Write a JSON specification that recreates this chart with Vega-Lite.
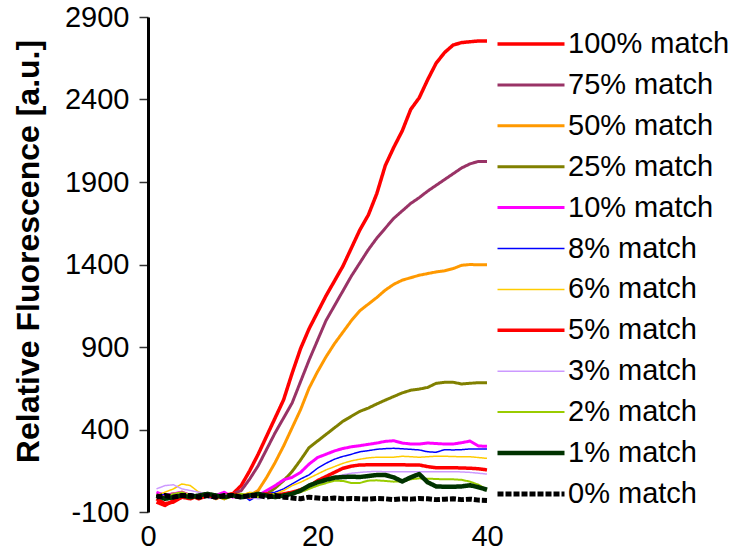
{
  "$schema": "https://vega.github.io/schema/vega-lite/v6.json",
  "width": 339,
  "height": 495,
  "autosize": {"type": "none"},
  "padding": {"left": 148, "top": 17, "right": 246, "bottom": 41},
  "background": "white",
  "config": {
    "font": "Liberation Sans",
    "view": {"stroke": null},
    "axis": {"grid": false}
  },
  "datasets": {
    "series": [
      {"s":"100% match","c":1,"v":-20},{"s":"100% match","c":2,"v":-50},{"s":"100% match","c":3,"v":-40},{"s":"100% match","c":4,"v":-10},{"s":"100% match","c":5,"v":-20},{"s":"100% match","c":6,"v":0},{"s":"100% match","c":7,"v":10},{"s":"100% match","c":8,"v":-10},{"s":"100% match","c":9,"v":0},{"s":"100% match","c":10,"v":10},
      {"s":"100% match","c":11,"v":60},{"s":"100% match","c":12,"v":150},{"s":"100% match","c":13,"v":250},{"s":"100% match","c":14,"v":360},{"s":"100% match","c":15,"v":470},{"s":"100% match","c":16,"v":580},{"s":"100% match","c":17,"v":740},{"s":"100% match","c":18,"v":890},{"s":"100% match","c":19,"v":1010},{"s":"100% match","c":20,"v":1110},
      {"s":"100% match","c":21,"v":1210},{"s":"100% match","c":22,"v":1300},{"s":"100% match","c":23,"v":1390},{"s":"100% match","c":24,"v":1500},{"s":"100% match","c":25,"v":1610},{"s":"100% match","c":26,"v":1700},{"s":"100% match","c":27,"v":1830},{"s":"100% match","c":28,"v":2000},{"s":"100% match","c":29,"v":2110},{"s":"100% match","c":30,"v":2210},
      {"s":"100% match","c":31,"v":2340},{"s":"100% match","c":32,"v":2410},{"s":"100% match","c":33,"v":2520},{"s":"100% match","c":34,"v":2620},{"s":"100% match","c":35,"v":2685},{"s":"100% match","c":36,"v":2730},{"s":"100% match","c":37,"v":2745},{"s":"100% match","c":38,"v":2750},{"s":"100% match","c":39,"v":2755},{"s":"100% match","c":40,"v":2755},

      {"s":"75% match","c":1,"v":0},{"s":"75% match","c":2,"v":-20},{"s":"75% match","c":3,"v":-10},{"s":"75% match","c":4,"v":0},{"s":"75% match","c":5,"v":-10},{"s":"75% match","c":6,"v":0},{"s":"75% match","c":7,"v":10},{"s":"75% match","c":8,"v":0},{"s":"75% match","c":9,"v":-10},{"s":"75% match","c":10,"v":10},
      {"s":"75% match","c":11,"v":30},{"s":"75% match","c":12,"v":100},{"s":"75% match","c":13,"v":180},{"s":"75% match","c":14,"v":280},{"s":"75% match","c":15,"v":380},{"s":"75% match","c":16,"v":470},{"s":"75% match","c":17,"v":560},{"s":"75% match","c":18,"v":690},{"s":"75% match","c":19,"v":820},{"s":"75% match","c":20,"v":940},
      {"s":"75% match","c":21,"v":1060},{"s":"75% match","c":22,"v":1150},{"s":"75% match","c":23,"v":1240},{"s":"75% match","c":24,"v":1330},{"s":"75% match","c":25,"v":1410},{"s":"75% match","c":26,"v":1490},{"s":"75% match","c":27,"v":1560},{"s":"75% match","c":28,"v":1620},{"s":"75% match","c":29,"v":1680},{"s":"75% match","c":30,"v":1725},
      {"s":"75% match","c":31,"v":1770},{"s":"75% match","c":32,"v":1805},{"s":"75% match","c":33,"v":1845},{"s":"75% match","c":34,"v":1880},{"s":"75% match","c":35,"v":1915},{"s":"75% match","c":36,"v":1950},{"s":"75% match","c":37,"v":1985},{"s":"75% match","c":38,"v":2010},{"s":"75% match","c":39,"v":2025},{"s":"75% match","c":40,"v":2025},

      {"s":"50% match","c":1,"v":10},{"s":"50% match","c":2,"v":-10},{"s":"50% match","c":3,"v":0},{"s":"50% match","c":4,"v":20},{"s":"50% match","c":5,"v":0},{"s":"50% match","c":6,"v":-10},{"s":"50% match","c":7,"v":0},{"s":"50% match","c":8,"v":-20},{"s":"50% match","c":9,"v":0},{"s":"50% match","c":10,"v":10},
      {"s":"50% match","c":11,"v":-10},{"s":"50% match","c":12,"v":0},{"s":"50% match","c":13,"v":30},{"s":"50% match","c":14,"v":110},{"s":"50% match","c":15,"v":200},{"s":"50% match","c":16,"v":300},{"s":"50% match","c":17,"v":410},{"s":"50% match","c":18,"v":520},{"s":"50% match","c":19,"v":650},{"s":"50% match","c":20,"v":750},
      {"s":"50% match","c":21,"v":840},{"s":"50% match","c":22,"v":920},{"s":"50% match","c":23,"v":990},{"s":"50% match","c":24,"v":1060},{"s":"50% match","c":25,"v":1120},{"s":"50% match","c":26,"v":1160},{"s":"50% match","c":27,"v":1200},{"s":"50% match","c":28,"v":1245},{"s":"50% match","c":29,"v":1280},{"s":"50% match","c":30,"v":1305},
      {"s":"50% match","c":31,"v":1320},{"s":"50% match","c":32,"v":1335},{"s":"50% match","c":33,"v":1345},{"s":"50% match","c":34,"v":1355},{"s":"50% match","c":35,"v":1362},{"s":"50% match","c":36,"v":1375},{"s":"50% match","c":37,"v":1395},{"s":"50% match","c":38,"v":1400},{"s":"50% match","c":39,"v":1398},{"s":"50% match","c":40,"v":1398},

      {"s":"25% match","c":1,"v":-10},{"s":"25% match","c":2,"v":0},{"s":"25% match","c":3,"v":10},{"s":"25% match","c":4,"v":0},{"s":"25% match","c":5,"v":-10},{"s":"25% match","c":6,"v":0},{"s":"25% match","c":7,"v":10},{"s":"25% match","c":8,"v":0},{"s":"25% match","c":9,"v":-20},{"s":"25% match","c":10,"v":0},
      {"s":"25% match","c":11,"v":0},{"s":"25% match","c":12,"v":10},{"s":"25% match","c":13,"v":0},{"s":"25% match","c":14,"v":10},{"s":"25% match","c":15,"v":45},{"s":"25% match","c":16,"v":90},{"s":"25% match","c":17,"v":145},{"s":"25% match","c":18,"v":215},{"s":"25% match","c":19,"v":290},{"s":"25% match","c":20,"v":330},
      {"s":"25% match","c":21,"v":370},{"s":"25% match","c":22,"v":410},{"s":"25% match","c":23,"v":450},{"s":"25% match","c":24,"v":480},{"s":"25% match","c":25,"v":510},{"s":"25% match","c":26,"v":530},{"s":"25% match","c":27,"v":555},{"s":"25% match","c":28,"v":578},{"s":"25% match","c":29,"v":600},{"s":"25% match","c":30,"v":622},
      {"s":"25% match","c":31,"v":638},{"s":"25% match","c":32,"v":645},{"s":"25% match","c":33,"v":655},{"s":"25% match","c":34,"v":680},{"s":"25% match","c":35,"v":686},{"s":"25% match","c":36,"v":686},{"s":"25% match","c":37,"v":676},{"s":"25% match","c":38,"v":680},{"s":"25% match","c":39,"v":684},{"s":"25% match","c":40,"v":684},

      {"s":"10% match","c":1,"v":20},{"s":"10% match","c":2,"v":0},{"s":"10% match","c":3,"v":10},{"s":"10% match","c":4,"v":20},{"s":"10% match","c":5,"v":0},{"s":"10% match","c":6,"v":-10},{"s":"10% match","c":7,"v":10},{"s":"10% match","c":8,"v":0},{"s":"10% match","c":9,"v":20},{"s":"10% match","c":10,"v":-10},
      {"s":"10% match","c":11,"v":0},{"s":"10% match","c":12,"v":10},{"s":"10% match","c":13,"v":0},{"s":"10% match","c":14,"v":30},{"s":"10% match","c":15,"v":60},{"s":"10% match","c":16,"v":95},{"s":"10% match","c":17,"v":110},{"s":"10% match","c":18,"v":140},{"s":"10% match","c":19,"v":190},{"s":"10% match","c":20,"v":230},
      {"s":"10% match","c":21,"v":250},{"s":"10% match","c":22,"v":270},{"s":"10% match","c":23,"v":285},{"s":"10% match","c":24,"v":295},{"s":"10% match","c":25,"v":302},{"s":"10% match","c":26,"v":310},{"s":"10% match","c":27,"v":318},{"s":"10% match","c":28,"v":328},{"s":"10% match","c":29,"v":332},{"s":"10% match","c":30,"v":318},
      {"s":"10% match","c":31,"v":312},{"s":"10% match","c":32,"v":312},{"s":"10% match","c":33,"v":318},{"s":"10% match","c":34,"v":315},{"s":"10% match","c":35,"v":312},{"s":"10% match","c":36,"v":312},{"s":"10% match","c":37,"v":320},{"s":"10% match","c":38,"v":330},{"s":"10% match","c":39,"v":300},{"s":"10% match","c":40,"v":298},

      {"s":"8% match","c":1,"v":0},{"s":"8% match","c":2,"v":10},{"s":"8% match","c":3,"v":-10},{"s":"8% match","c":4,"v":0},{"s":"8% match","c":5,"v":10},{"s":"8% match","c":6,"v":0},{"s":"8% match","c":7,"v":-10},{"s":"8% match","c":8,"v":-20},{"s":"8% match","c":9,"v":0},{"s":"8% match","c":10,"v":0},
      {"s":"8% match","c":11,"v":10},{"s":"8% match","c":12,"v":-30},{"s":"8% match","c":13,"v":0},{"s":"8% match","c":14,"v":10},{"s":"8% match","c":15,"v":20},{"s":"8% match","c":16,"v":40},{"s":"8% match","c":17,"v":70},{"s":"8% match","c":18,"v":100},{"s":"8% match","c":19,"v":125},{"s":"8% match","c":20,"v":165},
      {"s":"8% match","c":21,"v":195},{"s":"8% match","c":22,"v":220},{"s":"8% match","c":23,"v":237},{"s":"8% match","c":24,"v":250},{"s":"8% match","c":25,"v":265},{"s":"8% match","c":26,"v":272},{"s":"8% match","c":27,"v":280},{"s":"8% match","c":28,"v":284},{"s":"8% match","c":29,"v":286},{"s":"8% match","c":30,"v":283},
      {"s":"8% match","c":31,"v":280},{"s":"8% match","c":32,"v":276},{"s":"8% match","c":33,"v":265},{"s":"8% match","c":34,"v":262},{"s":"8% match","c":35,"v":278},{"s":"8% match","c":36,"v":276},{"s":"8% match","c":37,"v":278},{"s":"8% match","c":38,"v":282},{"s":"8% match","c":39,"v":282},{"s":"8% match","c":40,"v":282},

      {"s":"6% match","c":1,"v":0},{"s":"6% match","c":2,"v":20},{"s":"6% match","c":3,"v":40},{"s":"6% match","c":4,"v":70},{"s":"6% match","c":5,"v":60},{"s":"6% match","c":6,"v":20},{"s":"6% match","c":7,"v":10},{"s":"6% match","c":8,"v":0},{"s":"6% match","c":9,"v":-25},{"s":"6% match","c":10,"v":10},
      {"s":"6% match","c":11,"v":0},{"s":"6% match","c":12,"v":20},{"s":"6% match","c":13,"v":10},{"s":"6% match","c":14,"v":0},{"s":"6% match","c":15,"v":10},{"s":"6% match","c":16,"v":30},{"s":"6% match","c":17,"v":60},{"s":"6% match","c":18,"v":80},{"s":"6% match","c":19,"v":105},{"s":"6% match","c":20,"v":130},
      {"s":"6% match","c":21,"v":155},{"s":"6% match","c":22,"v":175},{"s":"6% match","c":23,"v":195},{"s":"6% match","c":24,"v":210},{"s":"6% match","c":25,"v":220},{"s":"6% match","c":26,"v":228},{"s":"6% match","c":27,"v":232},{"s":"6% match","c":28,"v":232},{"s":"6% match","c":29,"v":232},{"s":"6% match","c":30,"v":238},
      {"s":"6% match","c":31,"v":235},{"s":"6% match","c":32,"v":232},{"s":"6% match","c":33,"v":235},{"s":"6% match","c":34,"v":238},{"s":"6% match","c":35,"v":238},{"s":"6% match","c":36,"v":236},{"s":"6% match","c":37,"v":235},{"s":"6% match","c":38,"v":235},{"s":"6% match","c":39,"v":230},{"s":"6% match","c":40,"v":225},

      {"s":"5% match","c":1,"v":-40},{"s":"5% match","c":2,"v":-60},{"s":"5% match","c":3,"v":-30},{"s":"5% match","c":4,"v":-10},{"s":"5% match","c":5,"v":0},{"s":"5% match","c":6,"v":-20},{"s":"5% match","c":7,"v":0},{"s":"5% match","c":8,"v":-10},{"s":"5% match","c":9,"v":0},{"s":"5% match","c":10,"v":10},
      {"s":"5% match","c":11,"v":0},{"s":"5% match","c":12,"v":-10},{"s":"5% match","c":13,"v":0},{"s":"5% match","c":14,"v":10},{"s":"5% match","c":15,"v":0},{"s":"5% match","c":16,"v":10},{"s":"5% match","c":17,"v":20},{"s":"5% match","c":18,"v":35},{"s":"5% match","c":19,"v":55},{"s":"5% match","c":20,"v":90},
      {"s":"5% match","c":21,"v":115},{"s":"5% match","c":22,"v":140},{"s":"5% match","c":23,"v":165},{"s":"5% match","c":24,"v":178},{"s":"5% match","c":25,"v":185},{"s":"5% match","c":26,"v":186},{"s":"5% match","c":27,"v":186},{"s":"5% match","c":28,"v":186},{"s":"5% match","c":29,"v":186},{"s":"5% match","c":30,"v":186},
      {"s":"5% match","c":31,"v":185},{"s":"5% match","c":32,"v":185},{"s":"5% match","c":33,"v":175},{"s":"5% match","c":34,"v":168},{"s":"5% match","c":35,"v":168},{"s":"5% match","c":36,"v":168},{"s":"5% match","c":37,"v":167},{"s":"5% match","c":38,"v":165},{"s":"5% match","c":39,"v":162},{"s":"5% match","c":40,"v":155},

      {"s":"3% match","c":1,"v":40},{"s":"3% match","c":2,"v":60},{"s":"3% match","c":3,"v":65},{"s":"3% match","c":4,"v":40},{"s":"3% match","c":5,"v":30},{"s":"3% match","c":6,"v":20},{"s":"3% match","c":7,"v":10},{"s":"3% match","c":8,"v":0},{"s":"3% match","c":9,"v":10},{"s":"3% match","c":10,"v":-10},
      {"s":"3% match","c":11,"v":-20},{"s":"3% match","c":12,"v":-10},{"s":"3% match","c":13,"v":-20},{"s":"3% match","c":14,"v":-10},{"s":"3% match","c":15,"v":-10},{"s":"3% match","c":16,"v":0},{"s":"3% match","c":17,"v":10},{"s":"3% match","c":18,"v":20},{"s":"3% match","c":19,"v":40},{"s":"3% match","c":20,"v":60},
      {"s":"3% match","c":21,"v":90},{"s":"3% match","c":22,"v":115},{"s":"3% match","c":23,"v":125},{"s":"3% match","c":24,"v":135},{"s":"3% match","c":25,"v":140},{"s":"3% match","c":26,"v":144},{"s":"3% match","c":27,"v":146},{"s":"3% match","c":28,"v":144},{"s":"3% match","c":29,"v":144},{"s":"3% match","c":30,"v":144},
      {"s":"3% match","c":31,"v":144},{"s":"3% match","c":32,"v":144},{"s":"3% match","c":33,"v":144},{"s":"3% match","c":34,"v":144},{"s":"3% match","c":35,"v":144},{"s":"3% match","c":36,"v":144},{"s":"3% match","c":37,"v":143},{"s":"3% match","c":38,"v":140},{"s":"3% match","c":39,"v":135},{"s":"3% match","c":40,"v":130},

      {"s":"2% match","c":1,"v":0},{"s":"2% match","c":2,"v":-10},{"s":"2% match","c":3,"v":10},{"s":"2% match","c":4,"v":20},{"s":"2% match","c":5,"v":0},{"s":"2% match","c":6,"v":-10},{"s":"2% match","c":7,"v":10},{"s":"2% match","c":8,"v":0},{"s":"2% match","c":9,"v":-10},{"s":"2% match","c":10,"v":0},
      {"s":"2% match","c":11,"v":10},{"s":"2% match","c":12,"v":0},{"s":"2% match","c":13,"v":-10},{"s":"2% match","c":14,"v":0},{"s":"2% match","c":15,"v":10},{"s":"2% match","c":16,"v":0},{"s":"2% match","c":17,"v":10},{"s":"2% match","c":18,"v":20},{"s":"2% match","c":19,"v":40},{"s":"2% match","c":20,"v":60},
      {"s":"2% match","c":21,"v":75},{"s":"2% match","c":22,"v":90},{"s":"2% match","c":23,"v":88},{"s":"2% match","c":24,"v":76},{"s":"2% match","c":25,"v":76},{"s":"2% match","c":26,"v":90},{"s":"2% match","c":27,"v":92},{"s":"2% match","c":28,"v":88},{"s":"2% match","c":29,"v":84},{"s":"2% match","c":30,"v":86},
      {"s":"2% match","c":31,"v":98},{"s":"2% match","c":32,"v":104},{"s":"2% match","c":33,"v":102},{"s":"2% match","c":34,"v":100},{"s":"2% match","c":35,"v":98},{"s":"2% match","c":36,"v":98},{"s":"2% match","c":37,"v":95},{"s":"2% match","c":38,"v":84},{"s":"2% match","c":39,"v":65},{"s":"2% match","c":40,"v":35},

      {"s":"1% match","c":1,"v":0},{"s":"1% match","c":2,"v":-20},{"s":"1% match","c":3,"v":-10},{"s":"1% match","c":4,"v":0},{"s":"1% match","c":5,"v":-10},{"s":"1% match","c":6,"v":0},{"s":"1% match","c":7,"v":10},{"s":"1% match","c":8,"v":0},{"s":"1% match","c":9,"v":-10},{"s":"1% match","c":10,"v":0},
      {"s":"1% match","c":11,"v":-10},{"s":"1% match","c":12,"v":0},{"s":"1% match","c":13,"v":10},{"s":"1% match","c":14,"v":0},{"s":"1% match","c":15,"v":-10},{"s":"1% match","c":16,"v":0},{"s":"1% match","c":17,"v":10},{"s":"1% match","c":18,"v":30},{"s":"1% match","c":19,"v":60},{"s":"1% match","c":20,"v":80},
      {"s":"1% match","c":21,"v":95},{"s":"1% match","c":22,"v":108},{"s":"1% match","c":23,"v":112},{"s":"1% match","c":24,"v":114},{"s":"1% match","c":25,"v":112},{"s":"1% match","c":26,"v":118},{"s":"1% match","c":27,"v":124},{"s":"1% match","c":28,"v":124},{"s":"1% match","c":29,"v":110},{"s":"1% match","c":30,"v":85},
      {"s":"1% match","c":31,"v":110},{"s":"1% match","c":32,"v":130},{"s":"1% match","c":33,"v":80},{"s":"1% match","c":34,"v":55},{"s":"1% match","c":35,"v":53},{"s":"1% match","c":36,"v":53},{"s":"1% match","c":37,"v":55},{"s":"1% match","c":38,"v":62},{"s":"1% match","c":39,"v":50},{"s":"1% match","c":40,"v":35},

      {"s":"0% match","c":1,"v":-10},{"s":"0% match","c":2,"v":0},{"s":"0% match","c":3,"v":-10},{"s":"0% match","c":4,"v":0},{"s":"0% match","c":5,"v":0},{"s":"0% match","c":6,"v":-10},{"s":"0% match","c":7,"v":0},{"s":"0% match","c":8,"v":-10},{"s":"0% match","c":9,"v":0},{"s":"0% match","c":10,"v":0},
      {"s":"0% match","c":11,"v":-10},{"s":"0% match","c":12,"v":0},{"s":"0% match","c":13,"v":0},{"s":"0% match","c":14,"v":-10},{"s":"0% match","c":15,"v":0},{"s":"0% match","c":16,"v":-10},{"s":"0% match","c":17,"v":-15},{"s":"0% match","c":18,"v":-20},{"s":"0% match","c":19,"v":-10},{"s":"0% match","c":20,"v":-15},
      {"s":"0% match","c":21,"v":-20},{"s":"0% match","c":22,"v":-15},{"s":"0% match","c":23,"v":-20},{"s":"0% match","c":24,"v":-18},{"s":"0% match","c":25,"v":-20},{"s":"0% match","c":26,"v":-22},{"s":"0% match","c":27,"v":-18},{"s":"0% match","c":28,"v":-20},{"s":"0% match","c":29,"v":-25},{"s":"0% match","c":30,"v":-20},
      {"s":"0% match","c":31,"v":-22},{"s":"0% match","c":32,"v":-18},{"s":"0% match","c":33,"v":-20},{"s":"0% match","c":34,"v":-25},{"s":"0% match","c":35,"v":-22},{"s":"0% match","c":36,"v":-20},{"s":"0% match","c":37,"v":-25},{"s":"0% match","c":38,"v":-22},{"s":"0% match","c":39,"v":-28},{"s":"0% match","c":40,"v":-30}
    ]
  },
  "layer": [
    {
      "mark": {"type": "rule", "color": "black", "strokeWidth": 1.5},
      "encoding": {
        "y": {"datum": 0, "type": "quantitative", "scale": {"domain": [-100, 2900], "nice": false, "zero": false}}
      }
    },
    {
      "data": {"name": "series"},
      "mark": {"type": "line", "strokeJoin": "round"},
      "encoding": {
        "x": {
          "field": "c", "type": "quantitative",
          "scale": {"domain": [0, 40], "nice": false, "zero": false},
          "axis": {"values": [0, 20, 40], "title": null, "domain": false, "ticks": false, "labelFontSize": 29, "labelColor": "black", "labelPadding": 10, "labelFlush": false}
        },
        "y": {
          "field": "v", "type": "quantitative",
          "scale": {"domain": [-100, 2900], "nice": false, "zero": false},
          "axis": {
            "values": [-100, 400, 900, 1400, 1900, 2400, 2900],
            "labelExpr": "'' + datum.value",
            "title": "Relative Fluorescence [a.u.]",
            "titleFontSize": 32, "titleFontWeight": "bold", "titleColor": "black",
            "titleX": -103, "titleY": 234, "titleAngle": -90, "titleAlign": "center", "titleBaseline": "bottom",
            "labelFontSize": 29, "labelColor": "black", "labelPadding": 10,
            "domainColor": "black", "domainWidth": 3,
            "tickColor": "#333333", "tickWidth": 1.5, "tickSize": 9
          }
        },
        "color": {
          "field": "s", "type": "nominal",
          "scale": {
            "domain": ["100% match","75% match","50% match","25% match","10% match","8% match","6% match","5% match","3% match","2% match","1% match","0% match"],
            "range": ["#FF0000","#993366","#FF9900","#808000","#FF00FF","#0000FF","#FFCC00","#FF0000","#CC99FF","#99CC00","#003300","#000000"]
          },
          "legend": {
            "title": null, "orient": "none", "legendX": 347, "legendY": 13,
            "symbolType": "stroke", "symbolSize": 4489, "clipHeight": 28,
            "labelFontSize": 29, "labelColor": "black", "labelOffset": 1, "labelLimit": 300, "rowPadding": 11.9,
            "encode": {
              "symbols": {
                "update": {
                  "strokeWidth": {"signal": "datum.value == '5% match' ? 4 : datum.value == '0% match' ? 5 : 2"}
                }
              }
            }
          }
        },
        "strokeWidth": {
          "field": "s", "type": "nominal",
          "scale": {
            "type": "ordinal",
            "domain": ["100% match","75% match","50% match","25% match","10% match","8% match","6% match","5% match","3% match","2% match","1% match","0% match"],
            "range": [3.5, 3, 3, 3, 3, 1.5, 1.5, 3.5, 1.5, 2, 4.5, 5]
          },
          "legend": null
        },
        "strokeDash": {
          "field": "s", "type": "nominal",
          "scale": {
            "domain": ["100% match","75% match","50% match","25% match","10% match","8% match","6% match","5% match","3% match","2% match","1% match","0% match"],
            "range": [[1,0],[1,0],[1,0],[1,0],[1,0],[1,0],[1,0],[1,0],[1,0],[1,0],[1,0],[6,2]]
          },
          "legend": null
        }
      }
    }
  ]
}
